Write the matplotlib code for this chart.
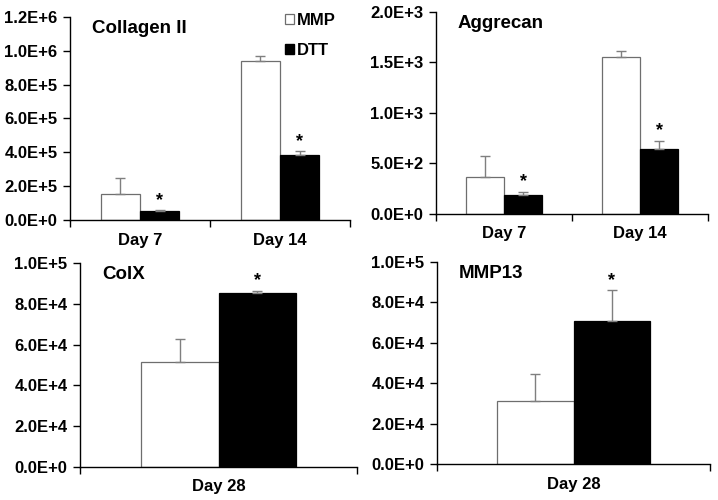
import matplotlib
matplotlib.use("Agg")
import matplotlib.pyplot as plt
import matplotlib.ticker as mticker
from matplotlib.patches import Patch

plt.rcParams["font.family"] = ["Liberation Sans", "DejaVu Sans"]
plt.rcParams["font.weight"] = "bold"

W, H = 718, 500

# --- data --------------------------------------------------------------------
series = ["MMP", "DTT"]

col2_days = ["Day 7", "Day 14"]
col2_mmp = [1.52e5, 9.39e5]
col2_mmp_err = [0.98e5, 0.31e5]
col2_dtt = [0.53e5, 3.86e5]
col2_dtt_err = [0.06e5, 0.20e5]

agg_days = ["Day 7", "Day 14"]
agg_mmp = [366, 1554]
agg_mmp_err = [205, 60]
agg_dtt = [192, 647]
agg_dtt_err = [26, 76]

colx_days = ["Day 28"]
colx_mmp = [5.16e4]
colx_mmp_err = [1.13e4]
colx_dtt = [8.55e4]
colx_dtt_err = [0.09e4]

mmp13_days = ["Day 28"]
mmp13_mmp = [3.14e4]
mmp13_mmp_err = [1.34e4]
mmp13_dtt = [7.09e4]
mmp13_dtt_err = [1.51e4]

panels = [
    # title, cats, mmp, mmp_err, dtt, dtt_err, ymax, ystep, box (l, r, top, bottom px)
    ("Collagen II", col2_days, col2_mmp, col2_mmp_err, col2_dtt, col2_dtt_err,
     1.2e6, 2e5, (70, 350, 17, 220)),
    ("Aggrecan", agg_days, agg_mmp, agg_mmp_err, agg_dtt, agg_dtt_err,
     2.0e3, 5e2, (436, 708, 12, 214)),
    ("ColX", colx_days, colx_mmp, colx_mmp_err, colx_dtt, colx_dtt_err,
     1.0e5, 2e4, (80, 357, 263, 467)),
    ("MMP13", mmp13_days, mmp13_mmp, mmp13_mmp_err, mmp13_dtt, mmp13_dtt_err,
     1.0e5, 2e4, (437, 710, 262, 464)),
]


def _sci(v, _pos=None):
    if v == 0:
        return "0.0E+0"
    s = f"{v:.1E}"
    mant, exp = s.split("E")
    return f"{mant}E+{int(exp)}"


fig = plt.figure(figsize=(W / 100, H / 100), dpi=100)
fig.patch.set_facecolor("white")

bw = 0.28
err_kw = dict(ecolor="#7f7f7f", elinewidth=1.0, capsize=3.5, capthick=1.0)

for title, cats, mmp, mmp_err, dtt, dtt_err, ymax, ystep, box in panels:
    l, r, t, b = box
    ax = fig.add_axes([l / W, 1 - b / H, (r - l) / W, (b - t) / H])
    n = len(cats)
    xs = list(range(n))

    ax.bar([x - bw / 2 for x in xs], mmp, bw, color="white",
           edgecolor="#6e6e6e", linewidth=0.9,
           yerr=[[0] * n, mmp_err], error_kw=err_kw, zorder=2)
    ax.bar([x + bw / 2 for x in xs], dtt, bw, color="black",
           edgecolor="black", linewidth=0.9,
           yerr=[[0] * n, dtt_err], error_kw=err_kw, zorder=2)

    # significance marks above the DTT bars
    for x, v, e in zip(xs, dtt, dtt_err):
        ax.annotate("*", (x + bw / 2, v + e), xytext=(0, 1),
                    textcoords="offset points", ha="center", va="bottom",
                    fontsize=13, fontweight="bold")

    ax.set_xlim(-0.5, n - 0.5)
    ax.set_ylim(0, ymax)
    ax.yaxis.set_major_locator(mticker.MultipleLocator(ystep))
    ax.yaxis.set_major_formatter(mticker.FuncFormatter(_sci))

    ax.set_xticks(xs)
    ax.set_xticklabels(cats, fontweight="bold")
    ax.set_xticks([i - 0.5 for i in range(n + 1)], minor=True)
    ax.tick_params(axis="x", which="major", length=0, pad=9, labelsize=12)
    ax.tick_params(axis="x", which="minor", length=5, width=1, direction="out")
    ax.tick_params(axis="y", length=5, width=1, direction="out", pad=4,
                   labelsize=12)
    for lab in ax.get_yticklabels():
        lab.set_fontweight("bold")

    for side in ("top", "right"):
        ax.spines[side].set_visible(False)
    for side in ("left", "bottom"):
        ax.spines[side].set_linewidth(1.0)
        ax.spines[side].set_color("black")
    ax.spines["left"].set_zorder(3)

    ax.text(0.08, 0.985, title, transform=ax.transAxes, ha="left", va="top",
            fontsize=13.5, fontweight="bold")

handles = [Patch(facecolor="white", edgecolor="#6e6e6e", linewidth=0.9),
           Patch(facecolor="black", edgecolor="black")]
fig.legend(handles, series, loc="upper left",
           bbox_to_anchor=(273 / W, 1 - 1 / H), frameon=False,
           handlelength=0.55, handleheight=0.55, handletextpad=0.2,
           labelspacing=0.9, prop={"size": 12, "weight": "bold"},
           borderpad=0.2)

fig.savefig("out.png", dpi=100, facecolor="white")
